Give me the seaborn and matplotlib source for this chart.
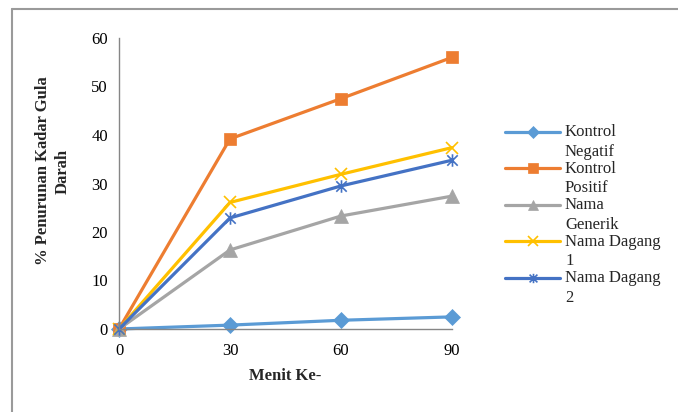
import numpy as np
import pandas as pd
import matplotlib
matplotlib.use("Agg")
import matplotlib.pyplot as plt
import seaborn as sns
from matplotlib.path import Path
from matplotlib.lines import Line2D
from matplotlib.legend_handler import HandlerLine2D

# ---- data ----
menit = [0, 30, 60, 90]
kontrol_negatif = [0, 0.8, 1.8, 2.5]
kontrol_positif = [0, 39.2, 47.5, 56.0]
nama_generik = [0, 16.3, 23.3, 27.4]
nama_dagang_1 = [0, 26.1, 31.9, 37.4]
nama_dagang_2 = [0, 22.9, 29.5, 34.8]
series_names = ["Kontrol\nNegatif", "Kontrol\nPositif", "Nama\nGenerik",
                "Nama Dagang\n1", "Nama Dagang\n2"]
x_ticks = [0, 30, 60, 90]
y_ticks = [0, 10, 20, 30, 40, 50, 60]

sns.set_theme(style="white")
plt.rcParams["font.family"] = ["Liberation Serif", "DejaVu Serif"]

FS = 12

star = Path([(-1, -1), (1, 1), (-1, 1), (1, -1), (0, -1.2), (0, 1.2)],
            [Path.MOVETO, Path.LINETO, Path.MOVETO, Path.LINETO, Path.MOVETO, Path.LINETO])

values = [kontrol_negatif, kontrol_positif, nama_generik, nama_dagang_1, nama_dagang_2]
colors = ["#5B9BD5", "#ED7D31", "#A5A5A5", "#FFC000", "#4472C4"]
markers = ["D", "s", "^", "x", star]
msizes = [8.5, 9, 9.5, 9, 9]

fig = plt.figure(figsize=(6.78, 4.12), dpi=100)
ax = fig.add_axes([119/678, 1-329/412, (452-119)/678, (329-38)/412])

for name, vals, c, m, ms in zip(series_names, values, colors, markers, msizes):
    df = pd.DataFrame({"Menit": menit, "Nilai": vals})
    sns.lineplot(data=df, x="Menit", y="Nilai", ax=ax, color=c, marker=m,
                 markersize=ms, linewidth=2.3, markeredgecolor=c,
                 markeredgewidth=1.2 if (m is star or m == "x") else 0.5,
                 label=name, legend=False, clip_on=False)

ax.set_xlim(0, 90)
ax.set_ylim(0, 60)
ax.set_xticks(x_ticks)
ax.set_yticks(y_ticks)
ax.tick_params(axis="both", labelsize=FS, labelcolor="#000000", length=4, width=1,
               direction="out", color="#868686")
ax.tick_params(axis="x", pad=6)
ax.tick_params(axis="y", pad=4)
for s in ["top", "right"]:
    ax.spines[s].set_visible(False)
for s in ["left", "bottom"]:
    ax.spines[s].set_color("#868686")
    ax.spines[s].set_linewidth(1)
ax.set_xlabel("Menit Ke-", fontsize=FS, fontweight="bold")
ax.set_ylabel("% Penurunan Kadar Gula\nDarah", fontsize=FS, fontweight="bold",
              linespacing=1.3)
ax.yaxis.set_label_coords(-0.145, 0.543)
ax.xaxis.set_label_coords(0.5, -0.135)


class UpHandler(HandlerLine2D):
    def create_artists(self, legend, orig_handle, xdescent, ydescent,
                       width, height, fontsize, trans):
        return super().create_artists(legend, orig_handle, xdescent,
                                      ydescent - 1.25 * fontsize, width, height,
                                      fontsize, trans)


handles = ax.get_lines()[:5]
handler_map = {h: UpHandler() for h in handles}
leg = fig.legend(handles=handles, labels=series_names, loc="upper left",
                 bbox_to_anchor=(505/678, 1-124/412), frameon=False,
                 fontsize=FS, handlelength=3.3, handletextpad=0.3,
                 labelspacing=0.06, borderpad=0, borderaxespad=0,
                 handler_map=handler_map, markerscale=0.75)
for t in leg.get_texts():
    t.set_linespacing(1.3)

# figure border (top and left)
fig.add_artist(Line2D([12/678, 1.0], [1-9/412, 1-9/412], color="#9a9a9a", lw=1.5))
fig.add_artist(Line2D([12/678, 12/678], [0, 1-9/412], color="#9a9a9a", lw=1.5))

fig.savefig("out.png", dpi=100)
